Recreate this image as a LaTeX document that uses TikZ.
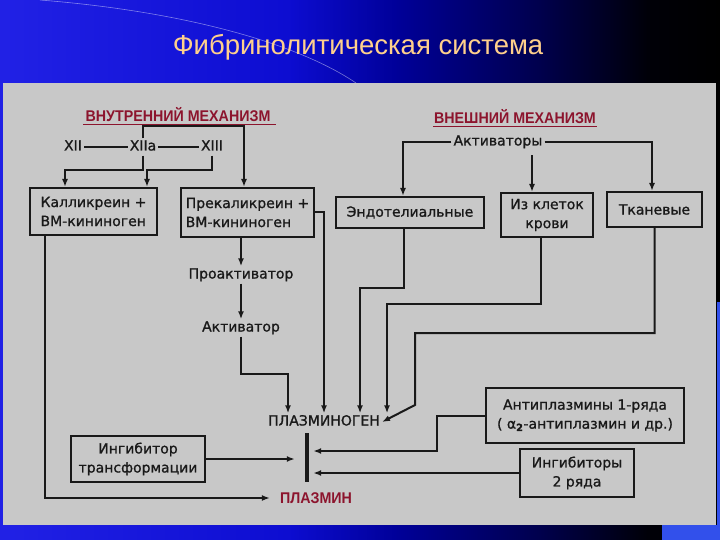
\documentclass[tikz,border=0pt]{standalone}
\usepackage{fontspec}
\setmainfont{DejaVu Sans}[FakeBold=1]
\newfontfamily\headfont{Liberation Sans}
\newfontfamily\headnarrow{Liberation Sans}[FakeStretch=0.92]
\usetikzlibrary{arrows.meta,positioning,calc}

\definecolor{panelgray}{RGB}{200,200,200}
\definecolor{labelred}{RGB}{140,20,45}
\definecolor{titlegold}{RGB}{255,208,140}
\definecolor{lineblack}{RGB}{25,25,25}
\definecolor{cornerblue}{RGB}{50,80,235}
\pgfdeclarehorizontalshading{slidebg}{100bp}{%
  rgb(0bp)=(0.13,0.13,0.9); rgb(25bp)=(0.13,0.13,0.9);
  rgb(45bp)=(0.05,0.05,0.82); rgb(52.5bp)=(0,0,0.6);
  rgb(62.5bp)=(0,0,0.3); rgb(70bp)=(0,0,0.03);
  rgb(75bp)=(0,0,0); rgb(100bp)=(0,0,0)}

\begin{document}
\begin{tikzpicture}[%
    x=1pt, y=-1pt,
    >={Latex[length=8pt,width=6pt]},
    box/.style={draw=lineblack, line width=2pt, inner sep=0pt, align=center,
      text=lineblack, font=\fontsize{14}{19}\selectfont},
    lbl/.style={inner sep=2pt, text height=10pt, text depth=3pt,
      text=lineblack, font=\fontsize{14}{19}\selectfont},
    head/.style={inner sep=1pt, text=labelred,
      font=\headnarrow\bfseries\fontsize{15.5}{17}\selectfont},
    link/.style={draw=lineblack, line width=2pt}
  ]
  \useasboundingbox (0,0) rectangle (720,540);
  % slide background
  \shade[shading=slidebg] (0,0) rectangle (720,540);
  \draw[white, opacity=0.45, line width=0.6pt]
    (40,0) .. controls (190,12) and (300,45) .. (356,83);
  \fill[panelgray] (3,83) rectangle (716,525);
  \fill[cornerblue] (717,302) rectangle (720,525);
  \fill[cornerblue] (662,525) rectangle (720,540);

  \node[font=\headfont\fontsize{27.5}{32}\selectfont, text=titlegold] (title)
    at (358,47) {Фибринолитическая система};

  % headings
  \node[head] (inner) at (178,115) {ВНУТРЕННИЙ МЕХАНИЗМ};
  \node[head] (outer) at (515,117) {ВНЕШНИЙ МЕХАНИЗМ};
  \draw[labelred, line width=1.2pt] ([xshift=-1pt,yshift=-1.5pt]inner.south west)
    -- ([xshift=4pt,yshift=-1.5pt]inner.south east);
  \draw[labelred, line width=1.2pt] ([yshift=-1.5pt]outer.south west)
    -- ([yshift=-1.5pt]outer.south east);

  % inner mechanism
  \node[lbl] (xii) at (73,147) {XII};
  \node[lbl] (xiia) at (143,147) {XIIa};
  \node[lbl] (xiii) at (212,147) {XIII};
  \node[box, minimum width=127pt, minimum height=47pt, align=left] (kal)
    at (93.5,211.5) {Калликреин +\\ВМ-кининоген};
  \node[box, minimum width=133pt, minimum height=49pt, align=left] (prekal)
    at (247.5,212.5) {Прекаликреин +\\ВМ-кининоген};
  \node[lbl] (proakt) at (241,275) {Проактиватор};
  \node[lbl] (akt) at (241,328) {Активатор};

  % outer mechanism
  \node[lbl] (aktiv) at (498,142) {Активаторы};
  \node[box, minimum width=148pt, minimum height=31pt] (endo)
    at (410,212.5) {Эндотелиальные};
  \node[box, minimum width=92pt, minimum height=44pt] (kletok)
    at (547,215) {Из клеток\\крови};
  \node[box, minimum width=95pt, minimum height=35pt] (tkan)
    at (654.5,209.5) {Тканевые};

  % plasminogen / plasmin
  \node[lbl] (plg) at (324,422) {ПЛАЗМИНОГЕН};
  \node[fill=lineblack, inner sep=0pt, minimum width=4pt, minimum height=49pt] (bar)
    at (307,457.5) {};
  \node[head] (plm) at (316,498) {ПЛАЗМИН};
  \node[box, minimum width=134pt, minimum height=46pt] (ingtr)
    at (138,459) {Ингибитор\\трансформации};
  \node[box, minimum width=198pt, minimum height=55pt] (antipl)
    at (585,415.5) {Антиплазмины 1-ряда\\( α\textsubscript{\textbf{2}}-антиплазмин и др.)};
  \node[box, minimum width=114pt, minimum height=48pt] (ing2)
    at (577,473) {Ингибиторы\\2 ряда};

  % connectors, inner
  \draw[link] (xii) -- (xiia);
  \draw[link] (xiia) -- (xiii);
  \draw[link,->] (xiia.north) -- ++(0,-12) -| ([xshift=-3.5pt]prekal.north);
  \draw[link,->] (xiia.south) -- ++(0,14) -| ([xshift=-28.5pt]kal.north);
  \draw[link,->] (xiii.south) -- ++(0,14) -| ([xshift=-11pt]kal.north east);
  \draw[link,->] (prekal.east) -| (plg.north);
  \draw[link,->] (prekal.south -| proakt.north) -- (proakt.north);
  \draw[link,->] (proakt.south) -- (akt.north);
  \draw[link,->] (akt.south) -- ++(0,37) -| ([xshift=-36pt]plg.north);
  \draw[link,->] ([xshift=-48.5pt]kal.south) |- ([xshift=-9pt]plm.west);

  % connectors, outer
  \draw[link,->] (aktiv.west) -| ([xshift=-7pt]endo.north);
  \draw[link,->] (aktiv.east) -| ([xshift=-2.5pt]tkan.north);
  \draw[link,->] ([xshift=34pt,yshift=-4.5pt]aktiv.south) -- ([xshift=-15pt]kletok.north);
  \draw[link,->] ([xshift=-6pt]endo.south) |- (360,288) -- ([xshift=36pt]plg.north);
  \draw[link,->] ([xshift=-6pt]kletok.south) |- (387,304) -- ([xshift=63pt]plg.north);
  \draw[link,->] (tkan.south) |- (415,333) -- (415,405) -- (plg.east);

  % inhibitors
  \draw[link,->,shorten >=10pt] (ingtr.east) -- (ingtr.east -| bar.west);
  \draw[link,->,shorten >=4pt] (antipl.west) -- (437,415.5) |- ([yshift=6.5pt]bar.east);
  \draw[link,->,shorten >=4pt] (ing2.west) -- (ing2.west -| bar.east);
\end{tikzpicture}
\end{document}
